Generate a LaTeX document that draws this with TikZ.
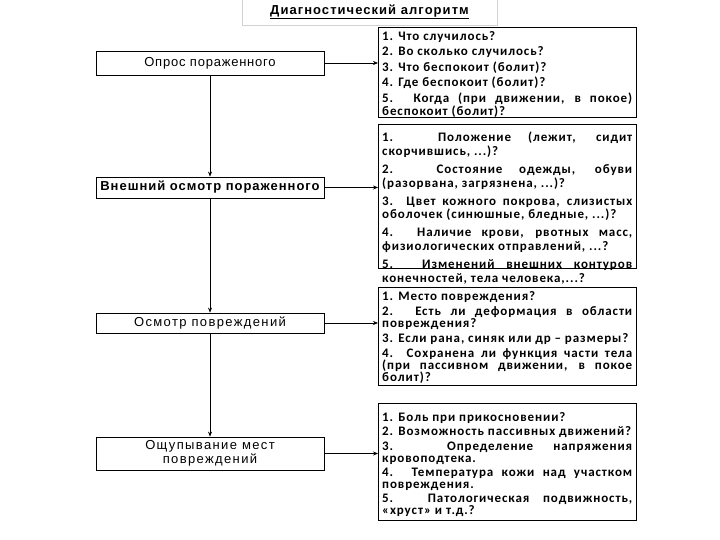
\documentclass[tikz,border=0pt]{standalone}
\usepackage{fontspec}
\setmainfont{Liberation Sans}
\newfontfamily\calib[LetterSpace=7]{Carlito}
\usetikzlibrary{arrows.meta}
\begin{document}
\begin{tikzpicture}[x=1pt,y=-1pt,
 lbox/.style={draw, line width=0.8pt, minimum width=228pt, inner sep=1pt, align=center},
 lfont/.style={font=\fontsize{13}{16}\selectfont\addfontfeatures{LetterSpace=#1}},
 rbox/.style={draw, line width=0.9pt, anchor=north west, minimum width=258pt},
 rtext/.style={anchor=north west, inner sep=0pt, text width=250pt, align=justify,
   font=\calib\bfseries\fontsize{13}{#1}\selectfont},
 arr/.style={-{Stealth[length=5pt,width=4pt]}, line width=0.6pt}]
\useasboundingbox (0,0) rectangle (720,540);
\hyphenpenalty=10000
\node[draw=gray!35, line width=0.6pt, minimum width=255pt, minimum height=26pt] (t) at (369.5,12)
  {\bfseries\fontsize{13}{15}\selectfont\addfontfeatures{LetterSpace=8}\underline{Диагностический алгоритм}};

\node[lbox, lfont=6, minimum height=24pt] (b1) at (210,63) {Опрос пораженного};
\node[lbox, lfont=7.5, minimum height=21pt] (b2) at (210,187.5) {\bfseries Внешний осмотр пораженного};
\node[lbox, lfont=10.5, minimum height=20pt] (b3) at (210,323) {Осмотр повреждений};
\node[lbox, lfont=10.5, minimum height=33pt] (b4) at (210,453.5) {Ощупывание мест\\[-1.5pt]повреждений};

\node[rbox, minimum height=90pt] (r1) at (378,27) {};
\node[rbox, minimum height=144pt] (r2) at (378,124) {};
\node[rbox, minimum height=98pt] (r3) at (378,287) {};
\node[rbox, minimum height=117pt] (r4) at (378,403) {};

\node[rtext=13] (r1t) at (382,31) {\setlength{\parskip}{2.5pt}%
1. Что случилось?\par
2. Во сколько случилось?\par
3. Что беспокоит (болит)?\par
4. Где беспокоит (болит)?\par
5. Когда (при движении, в покое)\linebreak беспокоит (болит)?};

\node[rtext=13.8] (r2t) at (382,132) {\setlength{\parskip}{4pt}%
1. Положение (лежит, сидит\linebreak скорчившись, ...)?\par
2. Состояние одежды, обуви\linebreak (разорвана, загрязнена, ...)?\par
3. Цвет кожного покрова, слизистых\linebreak оболочек (синюшные, бледные, ...)?\par
4. Наличие крови, рвотных масс,\linebreak физиологических отправлений, ...?\par
5. Изменений внешних контуров\linebreak конечностей, тела человека,...?};

\node[rtext=12.3] (r3t) at (382,291.5) {\setlength{\parskip}{2.5pt}%
1. Место повреждения?\par
2. Есть ли деформация в области\linebreak повреждения?\par
3. Если рана, синяк или др – размеры?\par
4. Сохранена ли функция части тела\linebreak (при пассивном движении, в покое\linebreak болит)?};

\node[rtext=11.8] (r4t) at (382,412.5) {\setlength{\parskip}{2.5pt}%
1. Боль при прикосновении?\par
2. Возможность пассивных движений?\par
3. Определение напряжения\linebreak кровоподтека.\par
4. Температура кожи над участком\linebreak повреждения.\par
5. Патологическая подвижность,\linebreak «хруст» и т.д.?};

\draw[arr] (b1.south) -- (b2.north);
\draw[arr] (b2.south) -- (b3.north);
\draw[arr] (b3.south) -- (b4.north);
\draw[arr] (b1.east) -- (b1.east -| r1.west);
\draw[arr] (b2.east) -- (b2.east -| r2.west);
\draw[arr] (b3.east) -- (b3.east -| r3.west);
\draw[arr] (b4.east) -- (b4.east -| r4.west);
\end{tikzpicture}
\end{document}
